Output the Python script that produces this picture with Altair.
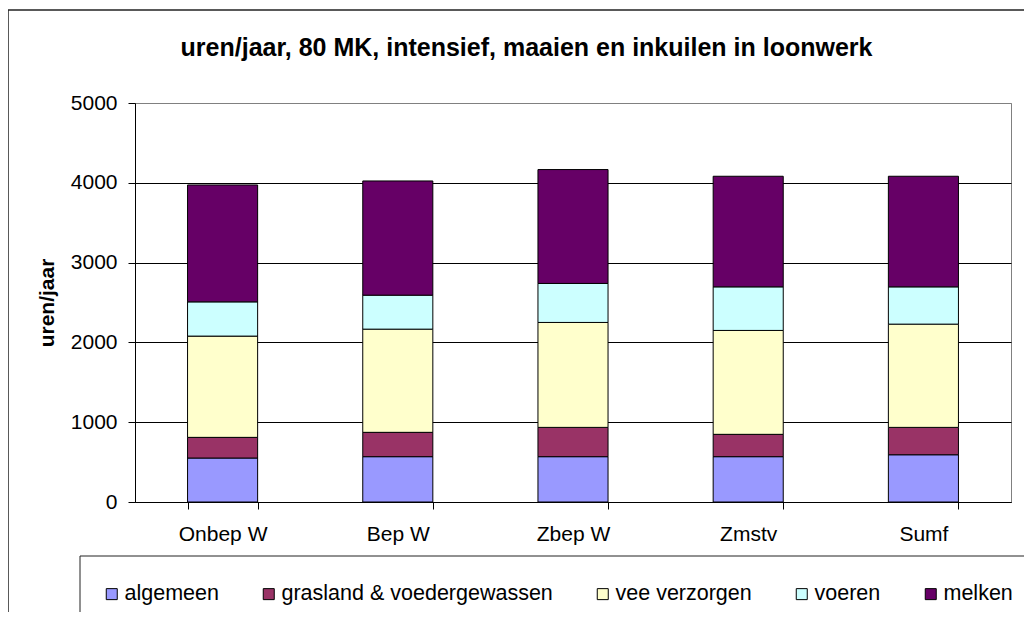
import altair as alt
import pandas as pd

categories = ["Onbep W", "Bep W", "Zbep W", "Zmstv", "Sumf"]
series = ["algemeen", "grasland & voedergewassen", "vee verzorgen", "voeren", "melken"]
colors = ["#9999FF", "#993366", "#FFFFCC", "#CCFFFF", "#660066"]

algemeen = [551, 568, 568, 568, 592]
grasland = [259, 305, 367, 280, 343]
vee_verzorgen = [1269, 1293, 1315, 1302, 1294]
voeren = [429, 426, 489, 546, 467]
melken = [1465, 1431, 1427, 1386, 1386]

y_ticks = [0, 1000, 2000, 3000, 4000, 5000]

values_by_series = [algemeen, grasland, vee_verzorgen, voeren, melken]
rows = []
for si, (name, vals) in enumerate(zip(series, values_by_series)):
    for c, v in zip(categories, vals):
        rows.append({"categorie": c, "reeks": name, "uren": v, "volgorde": si})
df = pd.DataFrame(rows)

FONT = "Liberation Sans, Arial, sans-serif"
W, H = 876, 399

bars = alt.Chart(df).mark_bar(stroke="black", strokeWidth=1).encode(
    x=alt.X(
        "categorie:N",
        sort=categories,
        scale=alt.Scale(paddingInner=0.6, paddingOuter=0.3),
        axis=alt.Axis(
            title=None,
            labelAngle=0,
            tickBand="extent",
            tickSize=7,
            tickColor="black",
            domainColor="black",
            labelPadding=14,
            labelFontSize=21,
            labelColor="black",
            labelFont=FONT,
            grid=False,
        ),
    ),
    y=alt.Y(
        "uren:Q",
        stack="zero",
        scale=alt.Scale(domain=[0, 5000], nice=False),
        axis=alt.Axis(
            title="uren/jaar",
            values=y_ticks,
            format="d",
            tickSize=7,
            tickColor="black",
            domainColor="black",
            labelPadding=11,
            labelFontSize=21,
            labelColor="black",
            labelFont=FONT,
            grid=True,
            gridColor=alt.condition("datum.value >= 5000", alt.value("#808080"), alt.value("#000000")),
            titleFont=FONT,
            titleFontSize=21,
            titleFontWeight="bold",
            titleColor="black",
            titleAngle=270,
            titleX=-82,
            titleY=199.5,
            titleBaseline="alphabetic",
            titleAlign="center",
        ),
    ),
    color=alt.Color(
        "reeks:N",
        scale=alt.Scale(domain=series, range=colors),
        legend=alt.Legend(
            title=None,
            orient="none",
            direction="horizontal",
            columns=5,
            legendX=-34,
            legendY=480,
            symbolType="square",
            symbolSize=121,
            symbolStrokeColor="black",
            symbolStrokeWidth=1,
            symbolOpacity=1,
            labelFont=FONT,
            labelFontSize=21.5,
            labelColor="black",
            labelOffset=2,
            labelLimit=500,
            columnPadding=39,
            padding=0,
        ),
    ),
    order=alt.Order("volgorde:Q"),
)

one = pd.DataFrame({"k": [0]})
frame_left = alt.Chart(one).mark_rule(color="#222222", strokeWidth=1.5).encode(
    x=alt.value(-127), y=alt.value(-93), y2=alt.value(515)
)
frame_top = alt.Chart(one).mark_rule(color="#222222", strokeWidth=1.5).encode(
    x=alt.value(-127), x2=alt.value(895), y=alt.value(-93)
)
legend_top = alt.Chart(one).mark_rule(color="#222222", strokeWidth=1).encode(
    x=alt.value(-55), x2=alt.value(895), y=alt.value(453)
)
legend_left = alt.Chart(one).mark_rule(color="#222222", strokeWidth=1).encode(
    x=alt.value(-55), y=alt.value(453), y2=alt.value(515)
)

chart = alt.layer(bars, frame_left, frame_top, legend_top, legend_left).properties(
    width=W,
    height=H,
    title=alt.TitleParams(
        "uren/jaar, 80 MK, intensief, maaien en inkuilen in loonwerk",
        font=FONT,
        fontSize=25,
        fontWeight="bold",
        color="black",
        anchor="middle",
        frame="group",
        dx=-46.5,
        offset=0,
        dy=71.75,
        baseline="alphabetic",
    ),
    autosize=alt.AutoSizeParams(type="none"),
    padding={"left": 127, "top": 95, "right": 13, "bottom": 110},
    background="white",
).configure_view(
    stroke="#808080", strokeWidth=1
)

chart.save("out.html", embed_options={"renderer": "svg", "actions": False})
